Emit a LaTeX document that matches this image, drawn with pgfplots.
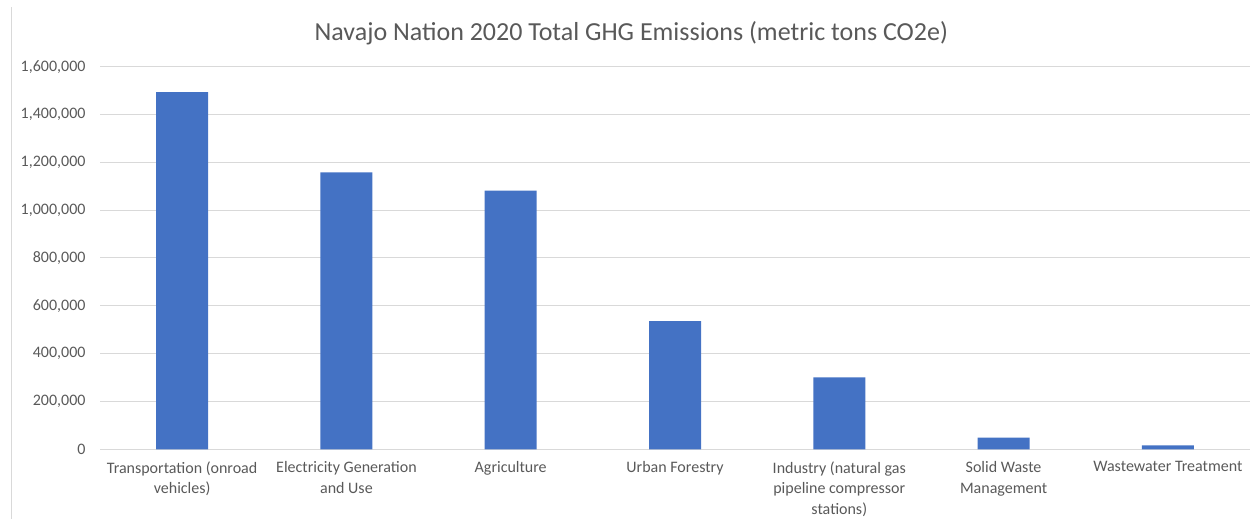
\documentclass[border=0pt]{standalone}
\usepackage{pgfplots}
\pgfplotsset{compat=1.18}
\usepackage{fontspec}
\setmainfont{Carlito}
\definecolor{barblue}{HTML}{4472C4}
\definecolor{gridgray}{HTML}{D9D9D9}
\definecolor{txtgray}{HTML}{595959}
\begin{document}
\begin{tikzpicture}
\path[use as bounding box] (0,0) rectangle (1255bp,519bp);
\draw[gridgray, line width=1bp] (11bp,0) -- (11bp,512bp);
\begin{axis}[
  at={(100bp,69.7bp)}, anchor=south west,
  scale only axis, width=1150bp, height=382.6bp,
  xmin=-0.5, xmax=6.5, ymin=0, ymax=1600000,
  ytick={0,200000,...,1600000},
  scaled y ticks=false,
  /pgf/number format/.cd, fixed, 1000 sep={,}, assume math mode=true,
  /pgfplots/.cd,
  axis line style={draw=none},
  ymajorgrids, grid style={gridgray, line width=1bp},
  major tick length=0pt,
  xtick=data,
  xticklabels={{Transportation (onroad\\vehicles)},{Electricity Generation\\and Use},{Agriculture},{Urban Forestry},{Industry (natural gas\\pipeline compressor\\stations)},{Solid Waste\\Management},{Wastewater Treatment}},
  xticklabel style={align=center, font=\fontsize{16bp}{20.5bp}\selectfont, color=txtgray, anchor=north, yshift=-10bp, inner ysep=2bp},
  yticklabel style={font=\fontsize{16bp}{19bp}\selectfont, color=txtgray, anchor=east, xshift=-11bp},
  title={Navajo Nation 2020 Total GHG Emissions (metric tons CO2e)},
  title style={font=\fontsize{26bp}{30bp}\selectfont, color=txtgray, at={(0.462,1)}, anchor=south, yshift=12bp},
  clip=false,
]
\addplot[ybar, bar width=52bp, fill=barblue, draw=none] coordinates {
(0,1494000) (1,1158000) (2,1081500) (3,536500) (4,301000) (5,48500) (6,16700)};
\end{axis}
\end{tikzpicture}
\end{document}
